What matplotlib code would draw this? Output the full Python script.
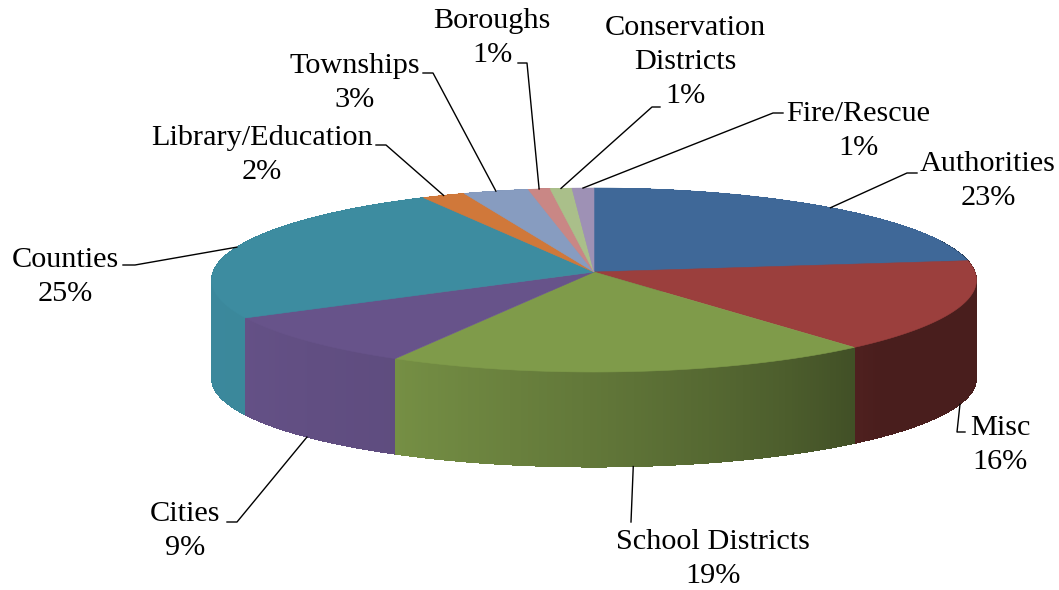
import numpy as np
import matplotlib.pyplot as plt
from matplotlib.patches import Polygon
from matplotlib.collections import PolyCollection
from matplotlib.colors import to_rgb

# data, clockwise from 12 o'clock
categories = ["Authorities", "Misc", "School Districts", "Cities", "Counties",
              "Library/Education", "Townships", "Boroughs",
              "Conservation\nDistricts", "Fire/Rescue"]
shares = [23, 16, 19, 9, 25, 2, 3, 1, 1, 1]
colors = ["#3F6898", "#9B3F3D", "#7F9B4A", "#67538A", "#3D8CA0",
          "#D0783A", "#879CC0", "#C98785", "#AABF8A", "#9E91B5"]

# label layout in pixels: text centre, elbow of leader, end of the short hook
label_xy = [(988, 181), (1000, 445), (713, 559), (185, 531), (65, 277),
            (262, 155), (355, 83), (492, 38), (685, 62), (858, 131)]
elbow_xy = [(907, 173), (957, 432), (631, 522), (237, 522), (135, 265),
            (386, 145), (433, 73), (527, 63), (652, 107), (773, 113)]
hook_xy = [(917, 173), (965, 432), (631, 522), (227, 522), (123, 265),
           (376, 145), (423, 73), (518, 63), (660, 107), (783, 113)]

# pie geometry (pixels) with a bit of perspective
CX, CY = 594, 272
RX, RY = 381, 91.3
K = 0.087
BOT_CY, BOT_RY = 371, 87.7


def proj(t, bottom=False):
    t = np.radians(t)
    X, Y = np.cos(t), np.sin(t)
    s = 1.0 / (1.0 + K * Y)
    x = CX + RX * X * s
    if bottom:
        y = BOT_CY - BOT_RY * Y * s
    else:
        y = CY - RY * Y * s
    return x, y


def shade(t):
    # side wall lighting: bright on the left, dark on the right
    t = (t + 180) % 360 - 180
    if t > 20:
        t = t - 360
    return np.interp(t, [-200, -150, -118, -90, -62, -45, 20],
                     [0.98, 0.97, 0.92, 0.77, 0.60, 0.47, 0.47])


fig = plt.figure(figsize=(10.59, 5.90), dpi=100)
ax = fig.add_axes([0, 0, 1, 1])
ax.set_xlim(0, 1059)
ax.set_ylim(590, 0)
ax.axis("off")

total = float(sum(shares))
bounds = 90 - np.concatenate([[0], np.cumsum(shares)]) / total * 360

# side walls: one solid piece per slice, then gradient strips over it
for i, col in enumerate(colors):
    ts = np.linspace(bounds[i], bounds[i + 1], 200)
    xt, yt = proj(ts)
    xb, yb = proj(ts[::-1], bottom=True)
    pts = list(zip(xt, yt)) + list(zip(xb, yb))
    tm = 0.5 * (bounds[i] + bounds[i + 1])
    c = np.clip(np.array(to_rgb(col)) * shade(tm), 0, 1)
    ax.add_patch(Polygon(pts, closed=True, facecolor=c, edgecolor="none"))

strips = []
for i, col in enumerate(colors):
    a0, a1 = bounds[i], bounds[i + 1]
    n = max(2, int(abs(a0 - a1) / 0.5))
    ts = np.linspace(a0, a1, n + 1)
    step = ts[1] - ts[0]
    base = np.array(to_rgb(col))
    for j in range(n):
        t0 = ts[j]
        t1 = ts[j + 1] + (0.6 * step if j < n - 1 else 0)
        x0, y0 = proj(t0)
        x1, y1 = proj(t1)
        x2, y2 = proj(t1, bottom=True)
        x3, y3 = proj(t0, bottom=True)
        tm = 0.5 * (ts[j] + ts[j + 1])
        c = np.clip(base * shade(tm), 0, 1)
        strips.append((np.sin(np.radians(tm)),
                       [(x0, y0), (x1, y1), (x2, y2), (x3, y3)], c))
strips.sort(key=lambda s: -s[0])
walls = PolyCollection([s[1] for s in strips],
                       facecolors=[s[2] for s in strips],
                       edgecolors="none", linewidths=0, antialiaseds=False)
ax.add_collection(walls)

# top surface
for i, col in enumerate(colors):
    ts = np.linspace(bounds[i], bounds[i + 1], 200)
    xs, ys = proj(ts)
    pts = [(CX, CY)] + list(zip(xs, ys))
    ax.add_patch(Polygon(pts, closed=True, facecolor=col, edgecolor=col,
                         linewidth=0.4))

# labels and leader lines
for i, name in enumerate(categories):
    tm = 0.5 * (bounds[i] + bounds[i + 1])
    front = np.sin(np.radians(tm)) < 0
    sx, sy = proj(tm, bottom=front)
    ex, ey = elbow_xy[i]
    hx, hy = hook_xy[i]
    ax.plot([sx, ex, hx], [sy, ey, hy], color="black", linewidth=1.0)
    tx, ty = label_xy[i]
    ax.text(tx, ty, f"{name}\n{shares[i]}%", ha="center", va="center",
            fontsize=21.8, family="Liberation Serif", linespacing=1.42,
            color="black")

fig.savefig("out.png", dpi=100, facecolor="white")
